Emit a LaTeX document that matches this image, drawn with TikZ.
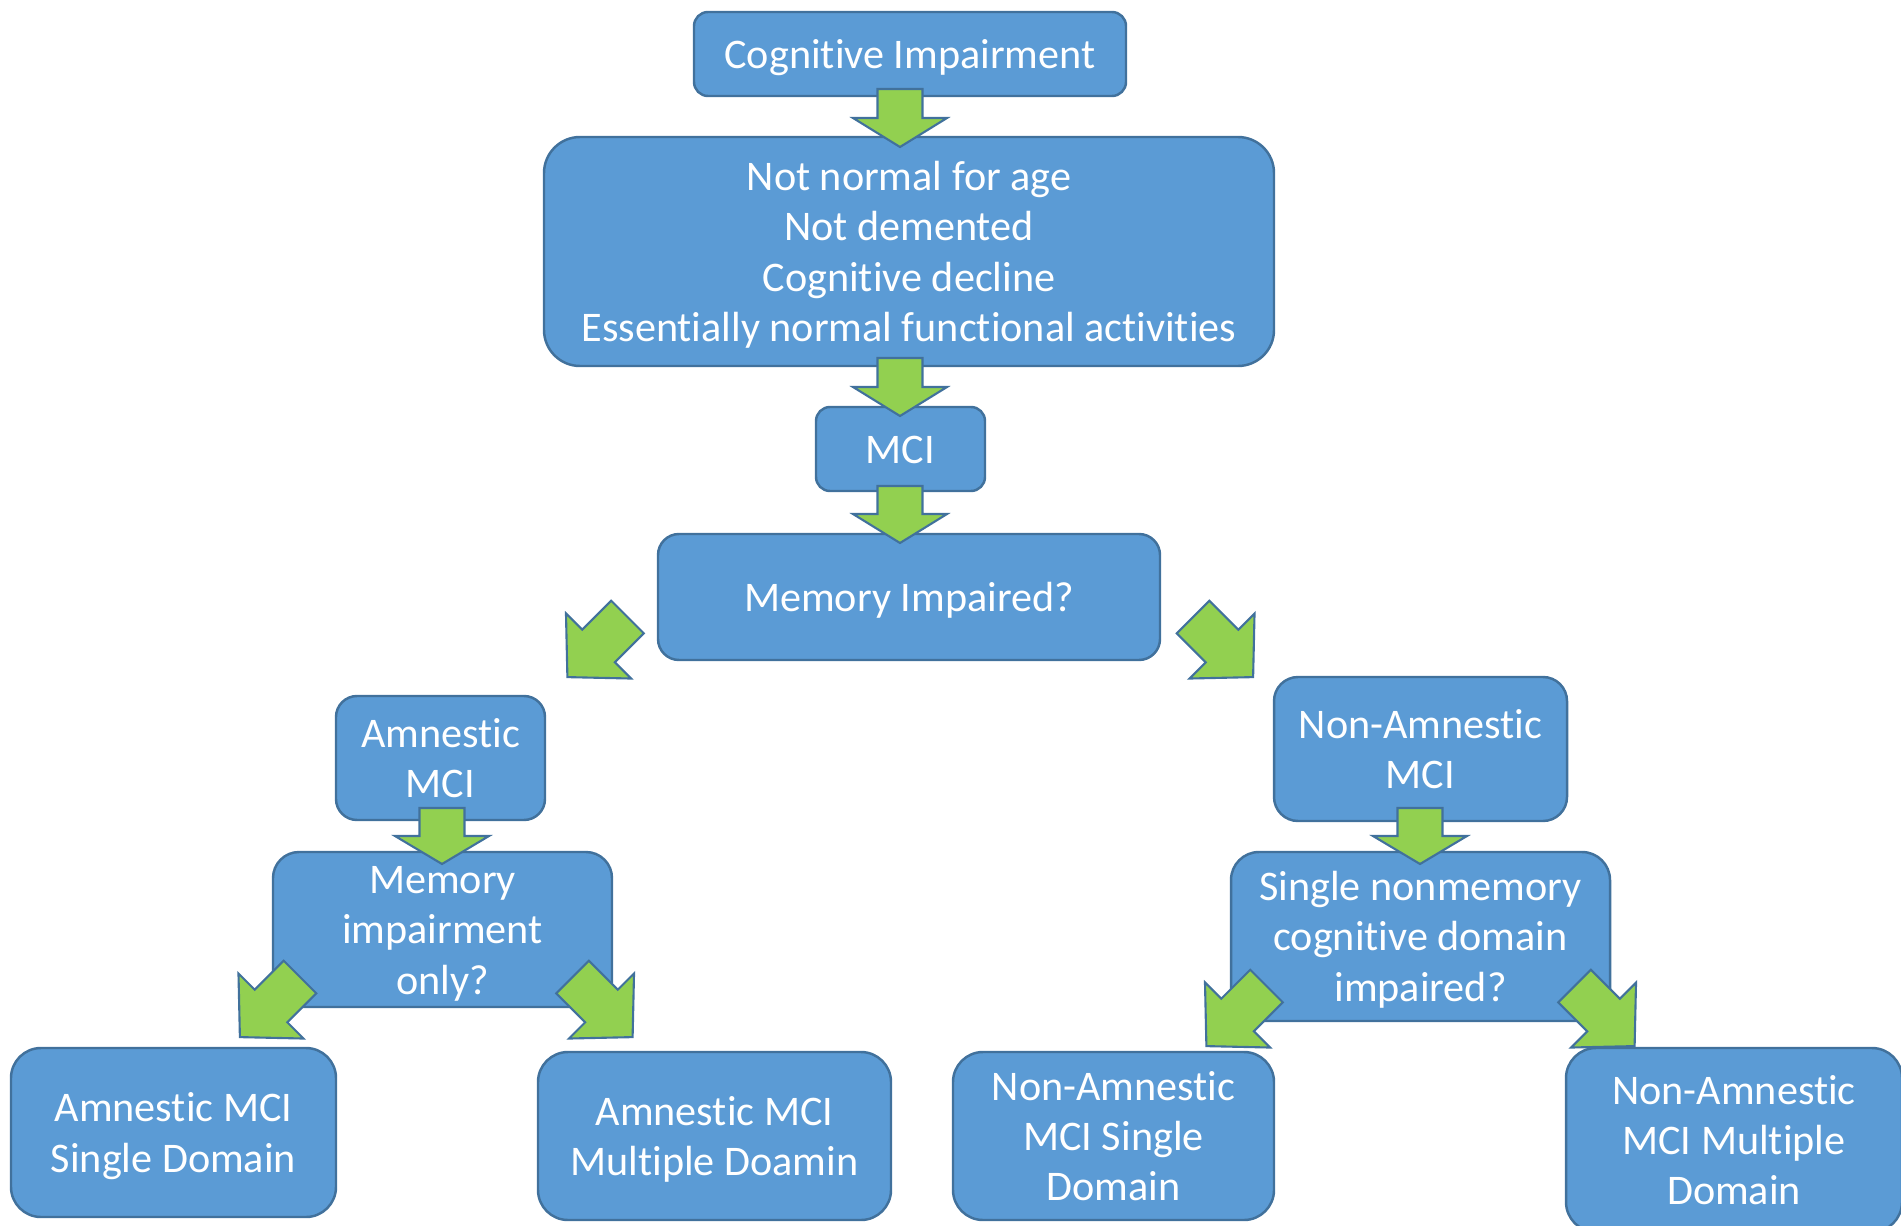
\documentclass[tikz,border=0pt]{standalone}
\usepackage{fontspec}
\setmainfont{Carlito}[Ligatures=CommonOff]
\definecolor{boxblue}{HTML}{5B9BD5}
\definecolor{boxedge}{HTML}{41719C}
\definecolor{arrgreen}{HTML}{92D050}
\newcommand{\tp}{\rule{0pt}{0.952em}}
\newcommand{\bt}{\rule[-0.269em]{0pt}{0pt}}
\tikzset{
  box/.style={draw=boxedge, fill=boxblue, line width=0.7pt, text=white, align=center,
    inner sep=0pt, font=\fontsize{12}{14.3}\selectfont},
  blockarrow/.style={draw=boxedge, fill=arrgreen, line width=0.6pt, line join=miter}
}
% #1 tail coordinate, #2 angle, #3 total length, #4 shaft half width, #5 head half width, #6 head length
\newcommand{\blockarr}[6]{%
  \draw[blockarrow, shift={(#1)}, rotate=#2]
    (0,-#4) -- ({#3-#6},-#4) -- ({#3-#6},-#5) -- (#3,0) -- ({#3-#6},#5) -- ({#3-#6},#4) -- (0,#4) -- cycle;}
\begin{document}
\begin{tikzpicture}[x=0.1mm, y=-0.1mm]
\useasboundingbox (0,0) rectangle (1901,1226);
\clip (0,0) rectangle (1901,1226);
% boxes
\node[box, minimum width=43.2mm, minimum height=8.4mm, rounded corners=1.4mm] (ci) at (910,54) {\tp Cognitive Impairment\bt};
\node[box, minimum width=73mm, minimum height=22.9mm, rounded corners=3.6mm] (crit) at (909,251.5)
  {\tp Not normal for age\\Not demented\\Cognitive decline\\Essentially normal functional activities\bt};
\node[box, minimum width=16.9mm, minimum height=8.4mm, rounded corners=1.4mm] (mci) at (900.5,449) {\tp MCI\bt};
\node[box, minimum width=50.2mm, minimum height=12.6mm, rounded corners=2.1mm] (memimp) at (909,597) {\tp Memory Impaired?\bt};
\node[box, minimum width=20.9mm, minimum height=12.4mm, rounded corners=2.1mm] (amn) at (440.5,758) {\tp Amnestic\\MCI\bt};
\node[box, minimum width=33.9mm, minimum height=15.5mm, rounded corners=2.6mm] (memonly) at (442.5,929.5) {\tp Memory\\impairment\\only?\bt};
\node[box, minimum width=29.3mm, minimum height=14.4mm, rounded corners=2.4mm] (namci) at (1420.5,749) {\tp Non-Amnestic\\MCI\bt};
\node[box, minimum width=37.9mm, minimum height=16.9mm, rounded corners=2.8mm] (single) at (1420.5,936.5) {\tp Single nonmemory\\cognitive domain\\impaired?\bt};
\node[box, minimum width=32.5mm, minimum height=16.9mm, rounded corners=3mm] (amnsd) at (173.5,1132.5) {\tp Amnestic MCI\\Single Domain\bt};
\node[box, minimum width=35.3mm, minimum height=16.8mm, rounded corners=3mm] (amnmd) at (714.5,1136) {\tp Amnestic MCI\\Multiple Doamin\bt};
\node[box, minimum width=32.1mm, minimum height=16.8mm, rounded corners=3mm] (nasd) at (1113.5,1136) {\tp Non-Amnestic\\MCI Single\\Domain\bt};
\node[box, minimum width=33.6mm, minimum height=18.4mm, rounded corners=3mm] (namd) at (1734,1140) {\tp Non-Amnestic\\MCI Multiple\\Domain\bt};
% arrow tails
\coordinate (t1) at (900,89);
\coordinate (t2) at (900,358);
\coordinate (t3) at (900,486);
\coordinate (t4) at (442,808);
\coordinate (t5) at (1420,808);
\coordinate (d1) at (627.5,617);
\coordinate (d2) at (1193,617);
\coordinate (d3) at (300,977);
\coordinate (d4) at (572.5,977);
\coordinate (d5) at (1266.5,986);
\coordinate (d6) at (1574.5,986);
% down arrows
\blockarr{t1}{-90}{58}{22.5}{47}{29}
\blockarr{t2}{-90}{58}{22.5}{47}{29}
\blockarr{t3}{-90}{57}{22.5}{47}{29}
\blockarr{t4}{-90}{56}{22.5}{47}{28}
\blockarr{t5}{-90}{56}{22.5}{47}{28}
% diagonal arrows
\blockarr{d1}{225}{85}{23}{46}{44}
\blockarr{d2}{-45}{85}{23}{46}{44}
\blockarr{d3}{225}{85}{23}{46}{44}
\blockarr{d4}{-45}{85}{23}{46}{44}
\blockarr{d5}{225}{85}{23}{46}{44}
\blockarr{d6}{-45}{85}{23}{46}{44}
\end{tikzpicture}
\end{document}
